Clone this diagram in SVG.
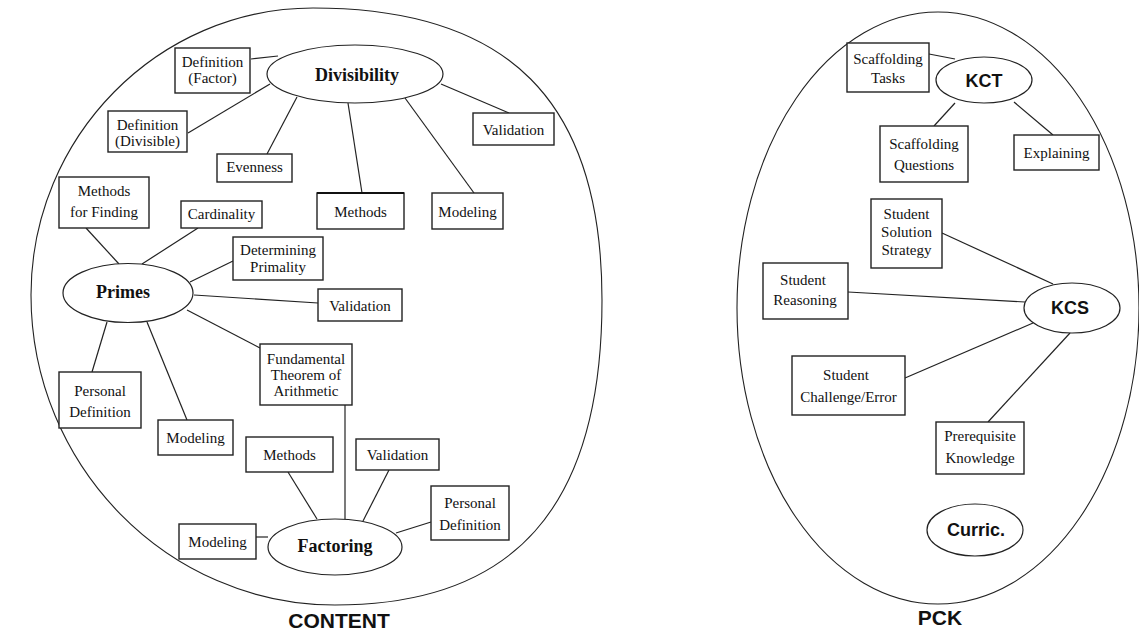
<svg xmlns="http://www.w3.org/2000/svg" width="1139" height="632" viewBox="0 0 1139 632">
  <style>
    .domain { fill: none; stroke: #222; stroke-width: 1.1; }
    .box { fill: #fff; stroke: #222; stroke-width: 1.4; }
    .hub { fill: #fff; stroke: #222; stroke-width: 1.2; }
    .link { stroke: #222; stroke-width: 1.2; fill: none; }
    .lbl { font-family: "Liberation Serif", "Times New Roman", serif; font-size: 15px; fill: #111; text-anchor: middle; }
    .hubSerif { font-family: "Liberation Serif", "Times New Roman", serif; font-size: 18px; font-weight: bold; fill: #111; text-anchor: middle; }
    .hubSans { font-family: "Liberation Sans", Arial, sans-serif; font-size: 18px; font-weight: bold; fill: #111; text-anchor: middle; }
    .title { font-family: "Liberation Sans", Arial, sans-serif; font-size: 21px; font-weight: bold; fill: #111; text-anchor: middle; }
  </style>
  <rect width="1139" height="632" fill="#fff"/>

  <!-- domain outlines -->
  <g id="content-domain">
    <path class="domain" d="M313,8 C508,8 602,100 602,300 C602,510 512,605 335,605 C168,605 31,466 31,295 C31,137 158,8 313,8 Z"/>
    <text class="title" x="339" y="628">CONTENT</text>
  </g>
  <g id="pck-domain">
    <ellipse class="domain" cx="938" cy="308" rx="201" ry="296"/>
    <text class="title" x="940" y="625">PCK</text>
  </g>

  <!-- connectors -->
  <g id="connectors">
    <line class="link" x1="251" y1="59" x2="278" y2="56"/>
    <line class="link" x1="188" y1="133" x2="270" y2="84"/>
    <line class="link" x1="267" y1="154" x2="297" y2="97"/>
    <line class="link" x1="348" y1="103" x2="362" y2="193"/>
    <line class="link" x1="405" y1="98" x2="474" y2="193"/>
    <line class="link" x1="441" y1="84" x2="509" y2="113"/>

    <line class="link" x1="86" y1="228" x2="119" y2="264"/>
    <line class="link" x1="198" y1="228" x2="142" y2="264"/>
    <line class="link" x1="233" y1="261" x2="190" y2="282"/>
    <line class="link" x1="194" y1="295" x2="318" y2="303"/>
    <line class="link" x1="187" y1="310" x2="260" y2="348"/>
    <line class="link" x1="92" y1="372" x2="107" y2="322"/>
    <line class="link" x1="147" y1="322" x2="187" y2="420"/>

    <line class="link" x1="345" y1="405" x2="345" y2="519"/>
    <line class="link" x1="288" y1="472" x2="317" y2="519"/>
    <line class="link" x1="389" y1="470" x2="363" y2="521"/>
    <line class="link" x1="431" y1="522" x2="396" y2="533"/>
    <line class="link" x1="256" y1="537" x2="268" y2="537"/>

    <line class="link" x1="929" y1="54" x2="955" y2="59"/>
    <line class="link" x1="934" y1="126" x2="955" y2="103"/>
    <line class="link" x1="1053" y1="135" x2="1014" y2="102"/>

    <line class="link" x1="942" y1="233" x2="1053" y2="284"/>
    <line class="link" x1="848" y1="292" x2="1025" y2="302"/>
    <line class="link" x1="905" y1="378" x2="1033" y2="323"/>
    <line class="link" x1="1070" y1="333" x2="988" y2="422"/>
  </g>

  <!-- CONTENT: Divisibility cluster -->
  <g id="divisibility">
    <ellipse class="hub" cx="355" cy="74" rx="88" ry="29"/>
    <text class="hubSerif" x="357" y="81">Divisibility</text>
  </g>
  <g id="def-factor">
    <rect class="box" x="175" y="48" width="75" height="45"/>
    <text class="lbl" x="212.5" y="67">Definition</text>
    <text class="lbl" x="212.5" y="83">(Factor)</text>
  </g>
  <g id="def-divisible">
    <rect class="box" x="108" y="111" width="79" height="41"/>
    <text class="lbl" x="147.5" y="130">Definition</text>
    <text class="lbl" x="147.5" y="146">(Divisible)</text>
  </g>
  <g id="evenness">
    <rect class="box" x="217" y="154" width="75" height="28"/>
    <text class="lbl" x="254.5" y="172">Evenness</text>
  </g>
  <g id="div-methods">
    <rect class="box" x="317" y="193" width="87" height="36"/>
    <line x1="317" y1="193" x2="404" y2="193" stroke="#111" stroke-width="2.2"/>
    <text class="lbl" x="360.5" y="217">Methods</text>
  </g>
  <g id="div-modeling">
    <rect class="box" x="432" y="193" width="71" height="36"/>
    <text class="lbl" x="467.5" y="217">Modeling</text>
  </g>
  <g id="div-validation">
    <rect class="box" x="473" y="113" width="81" height="32"/>
    <text class="lbl" x="513.5" y="135">Validation</text>
  </g>

  <!-- CONTENT: Primes cluster -->
  <g id="primes">
    <ellipse class="hub" cx="128" cy="293" rx="65" ry="29.5"/>
    <text class="hubSerif" x="123" y="298">Primes</text>
  </g>
  <g id="methods-finding">
    <rect class="box" x="59" y="177" width="90" height="51"/>
    <text class="lbl" x="104" y="196">Methods</text>
    <text class="lbl" x="104" y="217">for Finding</text>
  </g>
  <g id="cardinality">
    <rect class="box" x="181" y="201" width="81" height="27"/>
    <text class="lbl" x="221.5" y="219">Cardinality</text>
  </g>
  <g id="determining-primality">
    <rect class="box" x="233" y="237" width="90" height="43"/>
    <text class="lbl" x="278" y="255">Determining</text>
    <text class="lbl" x="278" y="272">Primality</text>
  </g>
  <g id="primes-validation">
    <rect class="box" x="318" y="289" width="84" height="32"/>
    <text class="lbl" x="360" y="311">Validation</text>
  </g>
  <g id="fta">
    <rect class="box" x="260" y="344" width="92" height="61"/>
    <text class="lbl" x="306" y="364">Fundamental</text>
    <text class="lbl" x="306" y="380">Theorem of</text>
    <text class="lbl" x="306" y="396">Arithmetic</text>
  </g>
  <g id="primes-personal-def">
    <rect class="box" x="59" y="372" width="82" height="56"/>
    <text class="lbl" x="100" y="396">Personal</text>
    <text class="lbl" x="100" y="417">Definition</text>
  </g>
  <g id="primes-modeling">
    <rect class="box" x="158" y="420" width="75" height="35"/>
    <text class="lbl" x="195.5" y="443">Modeling</text>
  </g>

  <!-- CONTENT: Factoring cluster -->
  <g id="factoring">
    <ellipse class="hub" cx="335" cy="547" rx="67" ry="28"/>
    <text class="hubSerif" x="335" y="552">Factoring</text>
  </g>
  <g id="fact-methods">
    <rect class="box" x="246" y="437" width="87" height="35"/>
    <text class="lbl" x="289.5" y="460">Methods</text>
  </g>
  <g id="fact-validation">
    <rect class="box" x="356" y="439" width="83" height="31"/>
    <text class="lbl" x="397.5" y="460">Validation</text>
  </g>
  <g id="fact-personal-def">
    <rect class="box" x="431" y="486" width="78" height="54"/>
    <text class="lbl" x="470" y="508">Personal</text>
    <text class="lbl" x="470" y="530">Definition</text>
  </g>
  <g id="fact-modeling">
    <rect class="box" x="179" y="524" width="77" height="35"/>
    <text class="lbl" x="217.5" y="547">Modeling</text>
  </g>

  <!-- PCK: KCT cluster -->
  <g id="kct">
    <ellipse class="hub" cx="984" cy="80" rx="48" ry="23"/>
    <text class="hubSans" x="984" y="87">KCT</text>
  </g>
  <g id="scaffolding-tasks">
    <rect class="box" x="847" y="43" width="82" height="49"/>
    <text class="lbl" x="888" y="64">Scaffolding</text>
    <text class="lbl" x="888" y="83">Tasks</text>
  </g>
  <g id="scaffolding-questions">
    <rect class="box" x="880" y="126" width="88" height="56"/>
    <text class="lbl" x="924" y="149">Scaffolding</text>
    <text class="lbl" x="924" y="170">Questions</text>
  </g>
  <g id="explaining">
    <rect class="box" x="1014" y="135" width="85" height="35"/>
    <text class="lbl" x="1056.5" y="158">Explaining</text>
  </g>

  <!-- PCK: KCS cluster -->
  <g id="kcs">
    <ellipse class="hub" cx="1072" cy="308" rx="48" ry="25"/>
    <text class="hubSans" x="1070" y="314">KCS</text>
  </g>
  <g id="student-solution-strategy">
    <rect class="box" x="871" y="199" width="71" height="69"/>
    <text class="lbl" x="906.5" y="219">Student</text>
    <text class="lbl" x="906.5" y="237">Solution</text>
    <text class="lbl" x="906.5" y="255">Strategy</text>
  </g>
  <g id="student-reasoning">
    <rect class="box" x="763" y="263" width="85" height="56"/>
    <text class="lbl" x="803" y="285">Student</text>
    <text class="lbl" x="805" y="305">Reasoning</text>
  </g>
  <g id="student-challenge">
    <rect class="box" x="792" y="356" width="113" height="59"/>
    <text class="lbl" x="846" y="380">Student</text>
    <text class="lbl" x="848.5" y="402">Challenge/Error</text>
  </g>
  <g id="prerequisite-knowledge">
    <rect class="box" x="936" y="422" width="88" height="52"/>
    <text class="lbl" x="980" y="441">Prerequisite</text>
    <text class="lbl" x="980" y="463">Knowledge</text>
  </g>

  <!-- PCK: curriculum -->
  <g id="curric">
    <ellipse class="hub" cx="975" cy="530" rx="48" ry="26"/>
    <text class="hubSans" x="976" y="536">Curric.</text>
  </g>
</svg>
